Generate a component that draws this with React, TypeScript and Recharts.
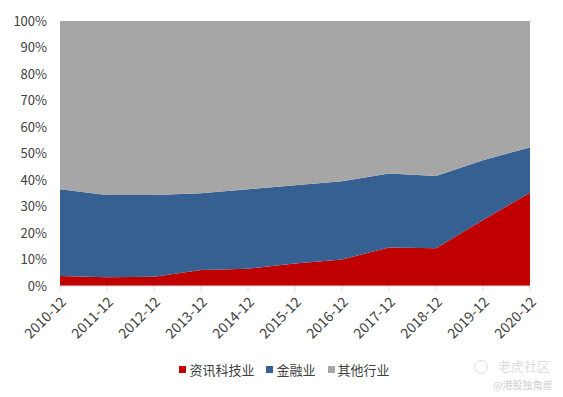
import { AreaChart, Area, XAxis, YAxis } from "recharts";

const periods = [
  "2010-12", "2011-12", "2012-12", "2013-12", "2014-12", "2015-12",
  "2016-12", "2017-12", "2018-12", "2019-12", "2020-12",
];

// share of market cap, %
const tech = [3.8, 3.3, 3.5, 6.0, 6.5, 8.5, 10.0, 14.5, 14.2, 24.9, 35.2];
const finance = [32.7, 31.0, 30.8, 29.0, 30.0, 29.5, 29.5, 28.0, 27.3, 22.6, 17.1];
const other = [63.5, 65.7, 65.7, 65.0, 63.5, 62.0, 60.5, 57.5, 58.5, 52.5, 47.7];

const yTicks = [0, 10, 20, 30, 40, 50, 60, 70, 80, 90, 100];

const series = [
  { key: "tech", name: "资讯科技业", color: "#C00000" },
  { key: "finance", name: "金融业", color: "#366092" },
  { key: "other", name: "其他行业", color: "#A6A6A6" },
];

const data = periods.map((p, i) => ({
  period: p,
  tech: tech[i],
  finance: finance[i],
  other: other[i],
}));

const font = "'Noto Sans CJK SC', 'Noto Sans', sans-serif";

export default function App() {
  return (
    <div style={{ position: "absolute", left: 0, top: 0, width: 563, height: 397, background: "#fff", fontFamily: font }}>
      <AreaChart
        width={563}
        height={397}
        data={data}
        margin={{ top: 21, right: 33, left: 0, bottom: 0 }}
      >
        <XAxis
          dataKey="period"
          height={111}
          interval={0}
          angle={-45}
          textAnchor="end"
          tick={{ fill: "#404040", fontSize: 14, fontFamily: font }}
          tickSize={5}
          tickMargin={5}
          stroke="#D9D9D9"
        />
        <YAxis
          width={60}
          domain={[0, 100]}
          ticks={yTicks}
          tickFormatter={(v) => `${v}%`}
          axisLine={false}
          tickLine={false}
          tickMargin={7}
          tick={{ fill: "#404040", fontSize: 13, fontFamily: font }}
        />
        {series.map((s) => (
          <Area
            key={s.key}
            type="linear"
            dataKey={s.key}
            name={s.name}
            stackId="1"
            stroke="none"
            fill={s.color}
            fillOpacity={1}
            isAnimationActive={false}
          />
        ))}
      </AreaChart>
      <div
        style={{
          position: "absolute",
          top: 360,
          left: 0,
          width: 563,
          display: "flex",
          justifyContent: "center",
          gap: 12,
          fontSize: 13,
          color: "#404040",
          paddingLeft: 6,
          boxSizing: "border-box",
        }}
      >
        {series.map((s) => (
          <div key={s.key} style={{ display: "flex", alignItems: "center" }}>
            <span style={{ width: 7, height: 7, background: s.color, marginRight: 3, display: "inline-block" }} />
            <span>{s.name}</span>
          </div>
        ))}
      </div>
      <div style={{ position: "absolute", left: 474, top: 356, fontSize: 13, color: "#DDDDDD" }}>
        <span style={{ display: "inline-block", width: 14, height: 14, border: "1.5px solid #DDDDDD", borderRadius: "50%", verticalAlign: "middle", marginRight: 10, boxSizing: "border-box" }} />
        老虎社区
      </div>
      <div style={{ position: "absolute", left: 493, top: 377, fontSize: 10, color: "#D0D0D0" }}>@港股独角兽</div>
    </div>
  );
}
